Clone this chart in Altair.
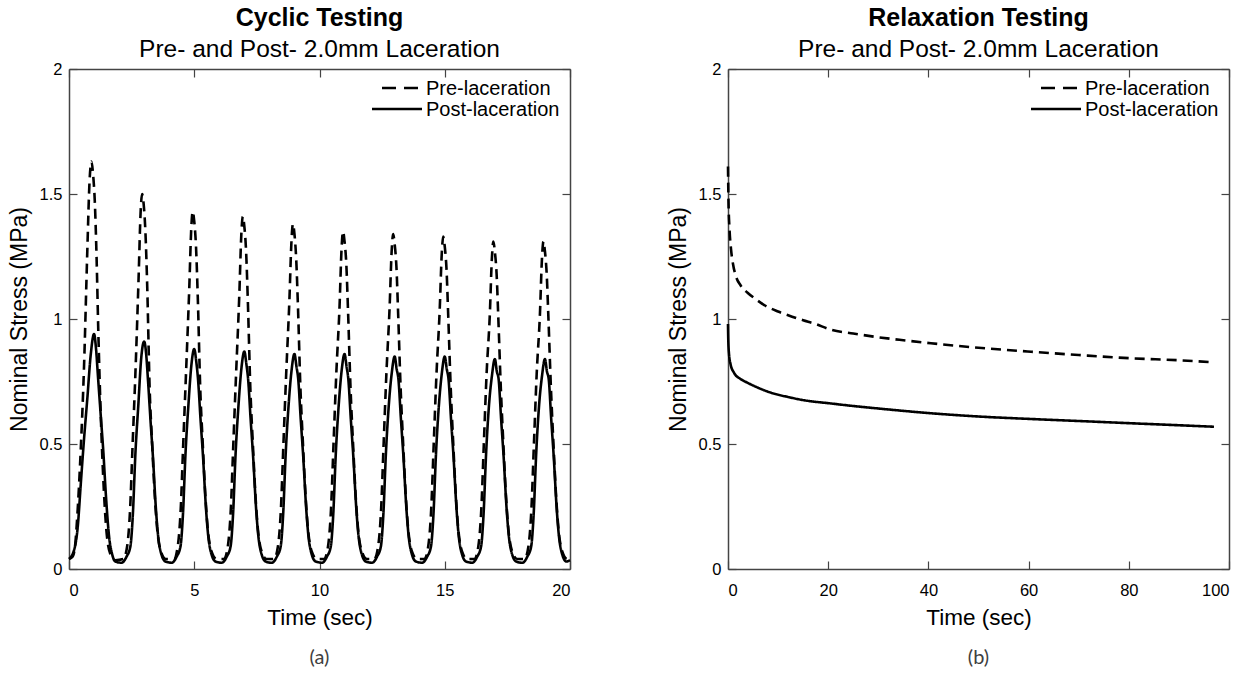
import altair as alt
import pandas as pd

# ---------------- Cyclic testing (panel a) ----------------
cyc_pre_time = [
    0.0, 0.15, 0.25, 0.33, 0.47, 0.6, 0.73, 0.82, 0.9, 0.96, 1.03, 1.1, 1.17, 1.26, 1.36, 1.48, 1.65, 1.85,
    2.17, 2.32, 2.44, 2.54, 2.65, 2.78, 2.86, 2.92, 2.98, 3.05, 3.12, 3.22, 3.32, 3.42, 3.52, 3.67, 3.87,
    4.19, 4.34, 4.46, 4.56, 4.67, 4.80, 4.88, 4.94, 5.00, 5.07, 5.14, 5.24, 5.34, 5.44, 5.54, 5.69, 5.89,
    6.19, 6.34, 6.46, 6.56, 6.67, 6.80, 6.88, 6.94, 7.00, 7.07, 7.14, 7.24, 7.34, 7.44, 7.54, 7.69, 7.89,
    8.19, 8.34, 8.46, 8.56, 8.67, 8.80, 8.88, 8.94, 9.00, 9.07, 9.14, 9.24, 9.34, 9.44, 9.54, 9.69, 9.89,
    10.19, 10.34, 10.46, 10.56, 10.67, 10.80, 10.88, 10.94, 11.00, 11.07, 11.14, 11.24, 11.34, 11.44, 11.54, 11.69, 11.89,
    12.19, 12.34, 12.46, 12.56, 12.67, 12.80, 12.88, 12.94, 13.00, 13.07, 13.14, 13.24, 13.34, 13.44, 13.54, 13.69, 13.89,
    14.19, 14.34, 14.46, 14.56, 14.67, 14.80, 14.88, 14.94, 15.00, 15.07, 15.14, 15.24, 15.34, 15.44, 15.54, 15.69, 15.89,
    16.19, 16.34, 16.46, 16.56, 16.67, 16.80, 16.88, 16.94, 17.00, 17.07, 17.14, 17.24, 17.34, 17.44, 17.54, 17.69, 17.89,
    18.19, 18.34, 18.46, 18.56, 18.67, 18.80, 18.88, 18.94, 19.00, 19.07, 19.14, 19.24, 19.34, 19.44, 19.54, 19.69, 19.89, 20.0,
]
cyc_pre_stress = [
    0.04, 0.05, 0.10, 0.21, 0.48, 0.81, 1.27, 1.55, 1.63, 1.58, 1.47, 1.25, 0.95, 0.64, 0.38, 0.17, 0.06, 0.035,
    0.04, 0.09, 0.24, 0.50, 0.78, 1.17, 1.43, 1.50, 1.46, 1.35, 1.14, 0.72, 0.50, 0.30, 0.16, 0.07, 0.04,
    0.04, 0.09, 0.24, 0.50, 0.78, 1.12, 1.36, 1.43, 1.39, 1.29, 1.09, 0.72, 0.50, 0.30, 0.16, 0.07, 0.04,
    0.04, 0.09, 0.24, 0.50, 0.78, 1.10, 1.34, 1.41, 1.37, 1.27, 1.07, 0.72, 0.50, 0.30, 0.16, 0.07, 0.04,
    0.04, 0.09, 0.24, 0.50, 0.78, 1.08, 1.31, 1.38, 1.34, 1.24, 1.05, 0.72, 0.50, 0.30, 0.16, 0.07, 0.04,
    0.04, 0.09, 0.24, 0.50, 0.78, 1.05, 1.28, 1.35, 1.31, 1.22, 1.03, 0.72, 0.50, 0.30, 0.16, 0.07, 0.04,
    0.04, 0.09, 0.24, 0.50, 0.78, 1.05, 1.27, 1.34, 1.30, 1.21, 1.02, 0.72, 0.50, 0.30, 0.16, 0.07, 0.04,
    0.04, 0.09, 0.24, 0.50, 0.78, 1.04, 1.26, 1.33, 1.29, 1.20, 1.01, 0.72, 0.50, 0.30, 0.16, 0.07, 0.04,
    0.04, 0.09, 0.24, 0.50, 0.78, 1.02, 1.24, 1.31, 1.27, 1.18, 1.00, 0.72, 0.50, 0.30, 0.16, 0.07, 0.04,
    0.04, 0.09, 0.24, 0.50, 0.78, 1.02, 1.24, 1.31, 1.27, 1.18, 1.00, 0.72, 0.50, 0.30, 0.16, 0.07, 0.04, 0.045,
]
cyc_post_time = [
    0.0, 0.2, 0.35, 0.47, 0.6, 0.73, 0.87, 1.0, 1.08, 1.15, 1.27, 1.37, 1.47, 1.6, 1.72, 1.85, 2.1,
    2.3, 2.45, 2.55, 2.65, 2.77, 2.88, 3.0, 3.08, 3.15, 3.25, 3.35, 3.47, 3.55, 3.7, 3.85, 4.1,
    4.3, 4.45, 4.55, 4.65, 4.77, 4.88, 5.0, 5.08, 5.15, 5.25, 5.35, 5.47, 5.55, 5.7, 5.85, 6.1,
    6.3, 6.45, 6.55, 6.65, 6.77, 6.88, 7.0, 7.08, 7.15, 7.25, 7.35, 7.47, 7.55, 7.7, 7.85, 8.1,
    8.3, 8.45, 8.55, 8.65, 8.77, 8.88, 9.0, 9.08, 9.15, 9.25, 9.35, 9.47, 9.55, 9.7, 9.85, 10.1,
    10.3, 10.45, 10.55, 10.65, 10.77, 10.88, 11.0, 11.08, 11.15, 11.25, 11.35, 11.47, 11.55, 11.7, 11.85, 12.1,
    12.3, 12.45, 12.55, 12.65, 12.77, 12.88, 13.0, 13.08, 13.15, 13.25, 13.35, 13.47, 13.55, 13.7, 13.85, 14.1,
    14.3, 14.45, 14.55, 14.65, 14.77, 14.88, 15.0, 15.08, 15.15, 15.25, 15.35, 15.47, 15.55, 15.7, 15.85, 16.1,
    16.3, 16.45, 16.55, 16.65, 16.77, 16.88, 17.0, 17.08, 17.15, 17.25, 17.35, 17.47, 17.55, 17.7, 17.85, 18.1,
    18.3, 18.45, 18.55, 18.65, 18.77, 18.88, 19.0, 19.08, 19.15, 19.25, 19.35, 19.47, 19.55, 19.7, 19.85, 20.0,
]
cyc_post_stress = [
    0.04, 0.075, 0.17, 0.34, 0.52, 0.68, 0.86, 0.94, 0.88, 0.78, 0.61, 0.47, 0.30, 0.13, 0.06, 0.03, 0.025,
    0.05, 0.09, 0.22, 0.46, 0.66, 0.84, 0.91, 0.86, 0.76, 0.60, 0.45, 0.24, 0.14, 0.055, 0.03, 0.025,
    0.05, 0.09, 0.22, 0.46, 0.66, 0.81, 0.88, 0.83, 0.76, 0.60, 0.45, 0.24, 0.14, 0.055, 0.03, 0.025,
    0.05, 0.09, 0.22, 0.46, 0.66, 0.80, 0.87, 0.82, 0.76, 0.60, 0.45, 0.24, 0.14, 0.055, 0.03, 0.025,
    0.05, 0.09, 0.22, 0.46, 0.66, 0.79, 0.86, 0.81, 0.76, 0.60, 0.45, 0.24, 0.14, 0.055, 0.03, 0.025,
    0.05, 0.09, 0.22, 0.46, 0.66, 0.79, 0.86, 0.81, 0.76, 0.60, 0.45, 0.24, 0.14, 0.055, 0.03, 0.025,
    0.05, 0.09, 0.22, 0.46, 0.66, 0.78, 0.85, 0.80, 0.76, 0.60, 0.45, 0.24, 0.14, 0.055, 0.03, 0.025,
    0.05, 0.09, 0.22, 0.46, 0.66, 0.78, 0.85, 0.80, 0.76, 0.60, 0.45, 0.24, 0.14, 0.055, 0.03, 0.025,
    0.05, 0.09, 0.22, 0.46, 0.66, 0.77, 0.84, 0.79, 0.76, 0.60, 0.45, 0.24, 0.14, 0.055, 0.03, 0.025,
    0.05, 0.09, 0.22, 0.46, 0.66, 0.77, 0.84, 0.79, 0.76, 0.60, 0.45, 0.24, 0.14, 0.055, 0.03, 0.035,
]

# ---------------- Relaxation testing (panel b) ----------------
rel_pre_time = [0, 0.1, 0.3, 0.6, 1.0, 1.6, 2.5, 3.9, 5.5, 7.3, 10, 12, 15, 17.2, 20.6, 25, 30, 35,
                40.5, 50, 60.5, 70, 80.4, 90, 97]
rel_pre_stress = [1.61, 1.47, 1.36, 1.28, 1.22, 1.17, 1.135, 1.105, 1.08, 1.055, 1.03, 1.015, 0.995, 0.982,
                  0.957, 0.942, 0.927, 0.915, 0.903, 0.885, 0.869, 0.856, 0.843, 0.835, 0.827]
rel_post_time = [0, 0.05, 0.2, 0.5, 1.2, 2.5, 3.9, 6, 8.6, 12, 15.2, 20.6, 25, 30, 40.5, 50, 60.5, 70,
                 80.4, 90, 97]
rel_post_stress = [0.98, 0.92, 0.86, 0.82, 0.785, 0.76, 0.745, 0.725, 0.705, 0.688, 0.675, 0.662, 0.652, 0.642,
                   0.623, 0.61, 0.60, 0.592, 0.583, 0.575, 0.569]

series_names = ["Pre-laceration", "Post-laceration"]
x_ticks_a = [0, 5, 10, 15, 20]
x_ticks_b = [0, 20, 40, 60, 80, 100]
y_ticks = [0, 0.5, 1, 1.5, 2]

FONT = "Liberation Sans"
AX = "#444444"
W, H = 501, 500


def frame(t_pre, v_pre, t_post, v_post):
    return pd.concat([
        pd.DataFrame({"t": t_pre, "v": v_pre, "s": series_names[0]}),
        pd.DataFrame({"t": t_post, "v": v_post, "s": series_names[1]}),
    ], ignore_index=True)


def legend_layers():
    # (dash pattern, symbol start, symbol end, row centre) for each series
    styles = [([14, 8], 313, 349, 19), ([1, 0], 303, 353, 40)]
    out = []
    for name, (dash, x0, x1, yc) in zip(series_names, styles):
        d = pd.DataFrame({"s": [name]})
        out.append(alt.Chart(d).mark_rule(strokeWidth=2.6, color="black", strokeDash=dash).encode(
            x=alt.value(x0), x2=alt.value(x1), y=alt.value(yc)))
        out.append(alt.Chart(d).mark_text(align="left", baseline="middle", font=FONT, fontSize=20,
                                          color="black").encode(
            text="s:N", x=alt.value(357), y=alt.value(yc + 1)))
    return out


def panel(df, xmax, xticks, title, caption):
    xs = alt.Scale(domain=[0, xmax], nice=False, zero=False)
    ys = alt.Scale(domain=[0, 2], nice=False)
    common = dict(domainColor=AX, tickColor=AX, tickWidth=1.2, domainWidth=1.5,
                  tickSize={"expr": "-8"}, grid=False)
    lines = alt.Chart(df).mark_line(strokeWidth=2.6, color="black", interpolate="monotone").encode(
        x=alt.X("t:Q", scale=xs, axis=alt.Axis(
            orient="bottom", values=xticks, title="Time (sec)", labelFontSize=16.5,
            titleFontSize=22.5, labelFont=FONT, titleFont=FONT, titleFontWeight="normal",
            labelColor="black", titleColor="black", labelPadding=21, titlePadding=8, **common)),
        y=alt.Y("v:Q", scale=ys, axis=alt.Axis(
            orient="left", values=y_ticks, format="~g", title="Nominal Stress (MPa)",
            labelFontSize=16.5, titleFontSize=23, labelFont=FONT, titleFont=FONT,
            titleFontWeight="normal", labelColor="black", titleColor="black",
            labelPadding=15, titlePadding=8, **common)),
        strokeDash=alt.StrokeDash("s:N", scale=alt.Scale(domain=series_names, range=[[10, 6], [1, 0]]),
                                  legend=None),
    )
    mirror = alt.Chart(df).mark_line(strokeOpacity=0).encode(
        x=alt.X("t:Q", scale=xs, axis=alt.Axis(orient="top", values=xticks, labels=False, title=None, **common)),
        y=alt.Y("v:Q", scale=ys, axis=alt.Axis(orient="right", values=y_ticks, labels=False, title=None, **common)),
    )
    cap = alt.Chart(pd.DataFrame({"c": [caption]})).mark_text(
        font="Lato", fontSize=20, color="#404040").encode(
        text="c:N", x=alt.value(W / 2), y=alt.value(H + 89))
    return alt.layer(lines, mirror, cap, *legend_layers()).resolve_axis(
        x="independent", y="independent").properties(
        width=W, height=H,
        title=alt.Title(title, subtitle="Pre- and Post- 2.0mm Laceration", font=FONT, subtitleFont=FONT,
                        fontSize=25, subtitleFontSize=24.5, fontWeight="bold", color="black",
                        subtitleColor="black", anchor="middle", offset=0, subtitlePadding=7),
    )


left = panel(frame(cyc_pre_time, cyc_pre_stress, cyc_post_time, cyc_post_stress), 20, x_ticks_a,
             "Cyclic Testing", "(a)")
right = panel(frame(rel_pre_time, rel_pre_stress, rel_post_time, rel_post_stress), 100, x_ticks_b,
              "Relaxation Testing", "(b)")

chart = alt.hconcat(left, right, spacing=158, bounds="flush").resolve_scale(
    strokeDash="independent").properties(
    padding={"left": 8, "top": 5, "right": 5, "bottom": 5}, background="white"
).configure_view(stroke=None)

chart.save("out.html", embed_options={"renderer": "svg", "actions": False})
